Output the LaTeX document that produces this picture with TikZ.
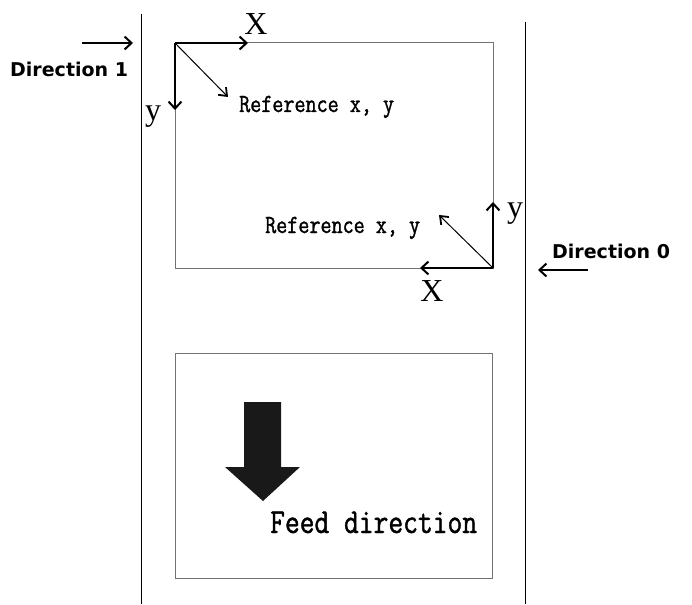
\documentclass[tikz,border=0pt]{standalone}
\usepackage{fontspec}
\usetikzlibrary{arrows.meta,positioning}
\newfontfamily\axisfont{Liberation Serif}
\newfontfamily\dirfont{DejaVu Sans}
\newfontfamily\reffont[FakeStretch=0.82,FakeBold=1.2]{Latin Modern Mono}
\tikzstyle{frame}=[draw=black!55,line width=1pt]
\tikzstyle{guide}=[draw=black,line width=0.9pt]
\tikzstyle{axis}=[draw,line width=2pt,-{Straight Barb[length=7pt,width=13pt,line width=2pt]}]
\tikzstyle{refarrow}=[draw,line width=1pt,-{Straight Barb[length=7pt,width=11pt,line width=1.8pt]}]
\tikzstyle{dirarrow}=[draw,line width=2.4pt,-{Straight Barb[length=7pt,width=13pt,line width=2pt]}]
\tikzstyle{axislabel}=[inner sep=0pt,font=\axisfont\fontsize{32}{32}\selectfont]
\tikzstyle{reflabel}=[inner sep=0pt,anchor=base west,font=\reffont\fontsize{26.2}{27}\selectfont]
\tikzstyle{dirlabel}=[inner sep=0pt,font=\dirfont\bfseries\fontsize{19}{19}\selectfont]

\begin{document}
\begin{tikzpicture}[x=1pt,y=-1pt]
    \useasboundingbox (0,0) rectangle (692,604);
    % guide lines and frames
    \path[guide] (141,14) -- (141,604);
    \path[guide] (525,22) -- (525,604);
    \path[frame] (175,43) rectangle (493,268);
    \path[frame] (175,353) rectangle (492,578);

    % corner points and arrow ends
    \foreach \pos/\name in {{(175,43)/TL}, {(248,43)/TLx}, {(175,110)/TLy}, {(228,97)/TLr}, {(493,268)/BR}, {(420,268)/BRx}, {(493,202)/BRy}, {(439,215)/BRr}, {(82,43)/D1a}, {(133,43)/D1b}, {(588,270)/D0a}, {(538,270)/D0b}}
        \node[coordinate] (\name) at \pos {};

    % axes at both corners
    \foreach \source/\dest in {TL/TLx, TL/TLy, BR/BRx, BR/BRy}
        \path[axis] (\source) -- (\dest);
    \foreach \source/\dest in {TL/TLr, BR/BRr}
        \path[refarrow] (\source) -- (\dest);

    % direction arrows
    \path[dirarrow] (D1a) -- (D1b);
    \path[dirarrow] (D0a) -- (D0b);

    % labels
    \node[axislabel] (xtop) at (256,24) {X};
    \node[axislabel] (ytop) at (153,117) {y};
    \node[axislabel] (xbot) at (432,291) {X};
    \node[axislabel] (ybot) at (515,214) {y};
    \node[reflabel] (reftop) at (239,112) {Reference x, y};
    \node[reflabel] (refbot) at (265,233) {Reference x, y};
    \node[dirlabel,anchor=west] (dir1) at (10,69) {Direction 1};
    \node[dirlabel,anchor=west] (dir0) at (552,251) {Direction 0};

    % feed arrow
    \fill[black!90] (244,402) -- (281,402) -- (281,467) -- (300,467) -- (263,501)
        -- (225,467) -- (244,467) -- cycle;
    \node[reflabel,font=\reffont\fontsize{35}{36}\selectfont] (feed) at (270,533) {Feed direction};
\end{tikzpicture}
\end{document}
